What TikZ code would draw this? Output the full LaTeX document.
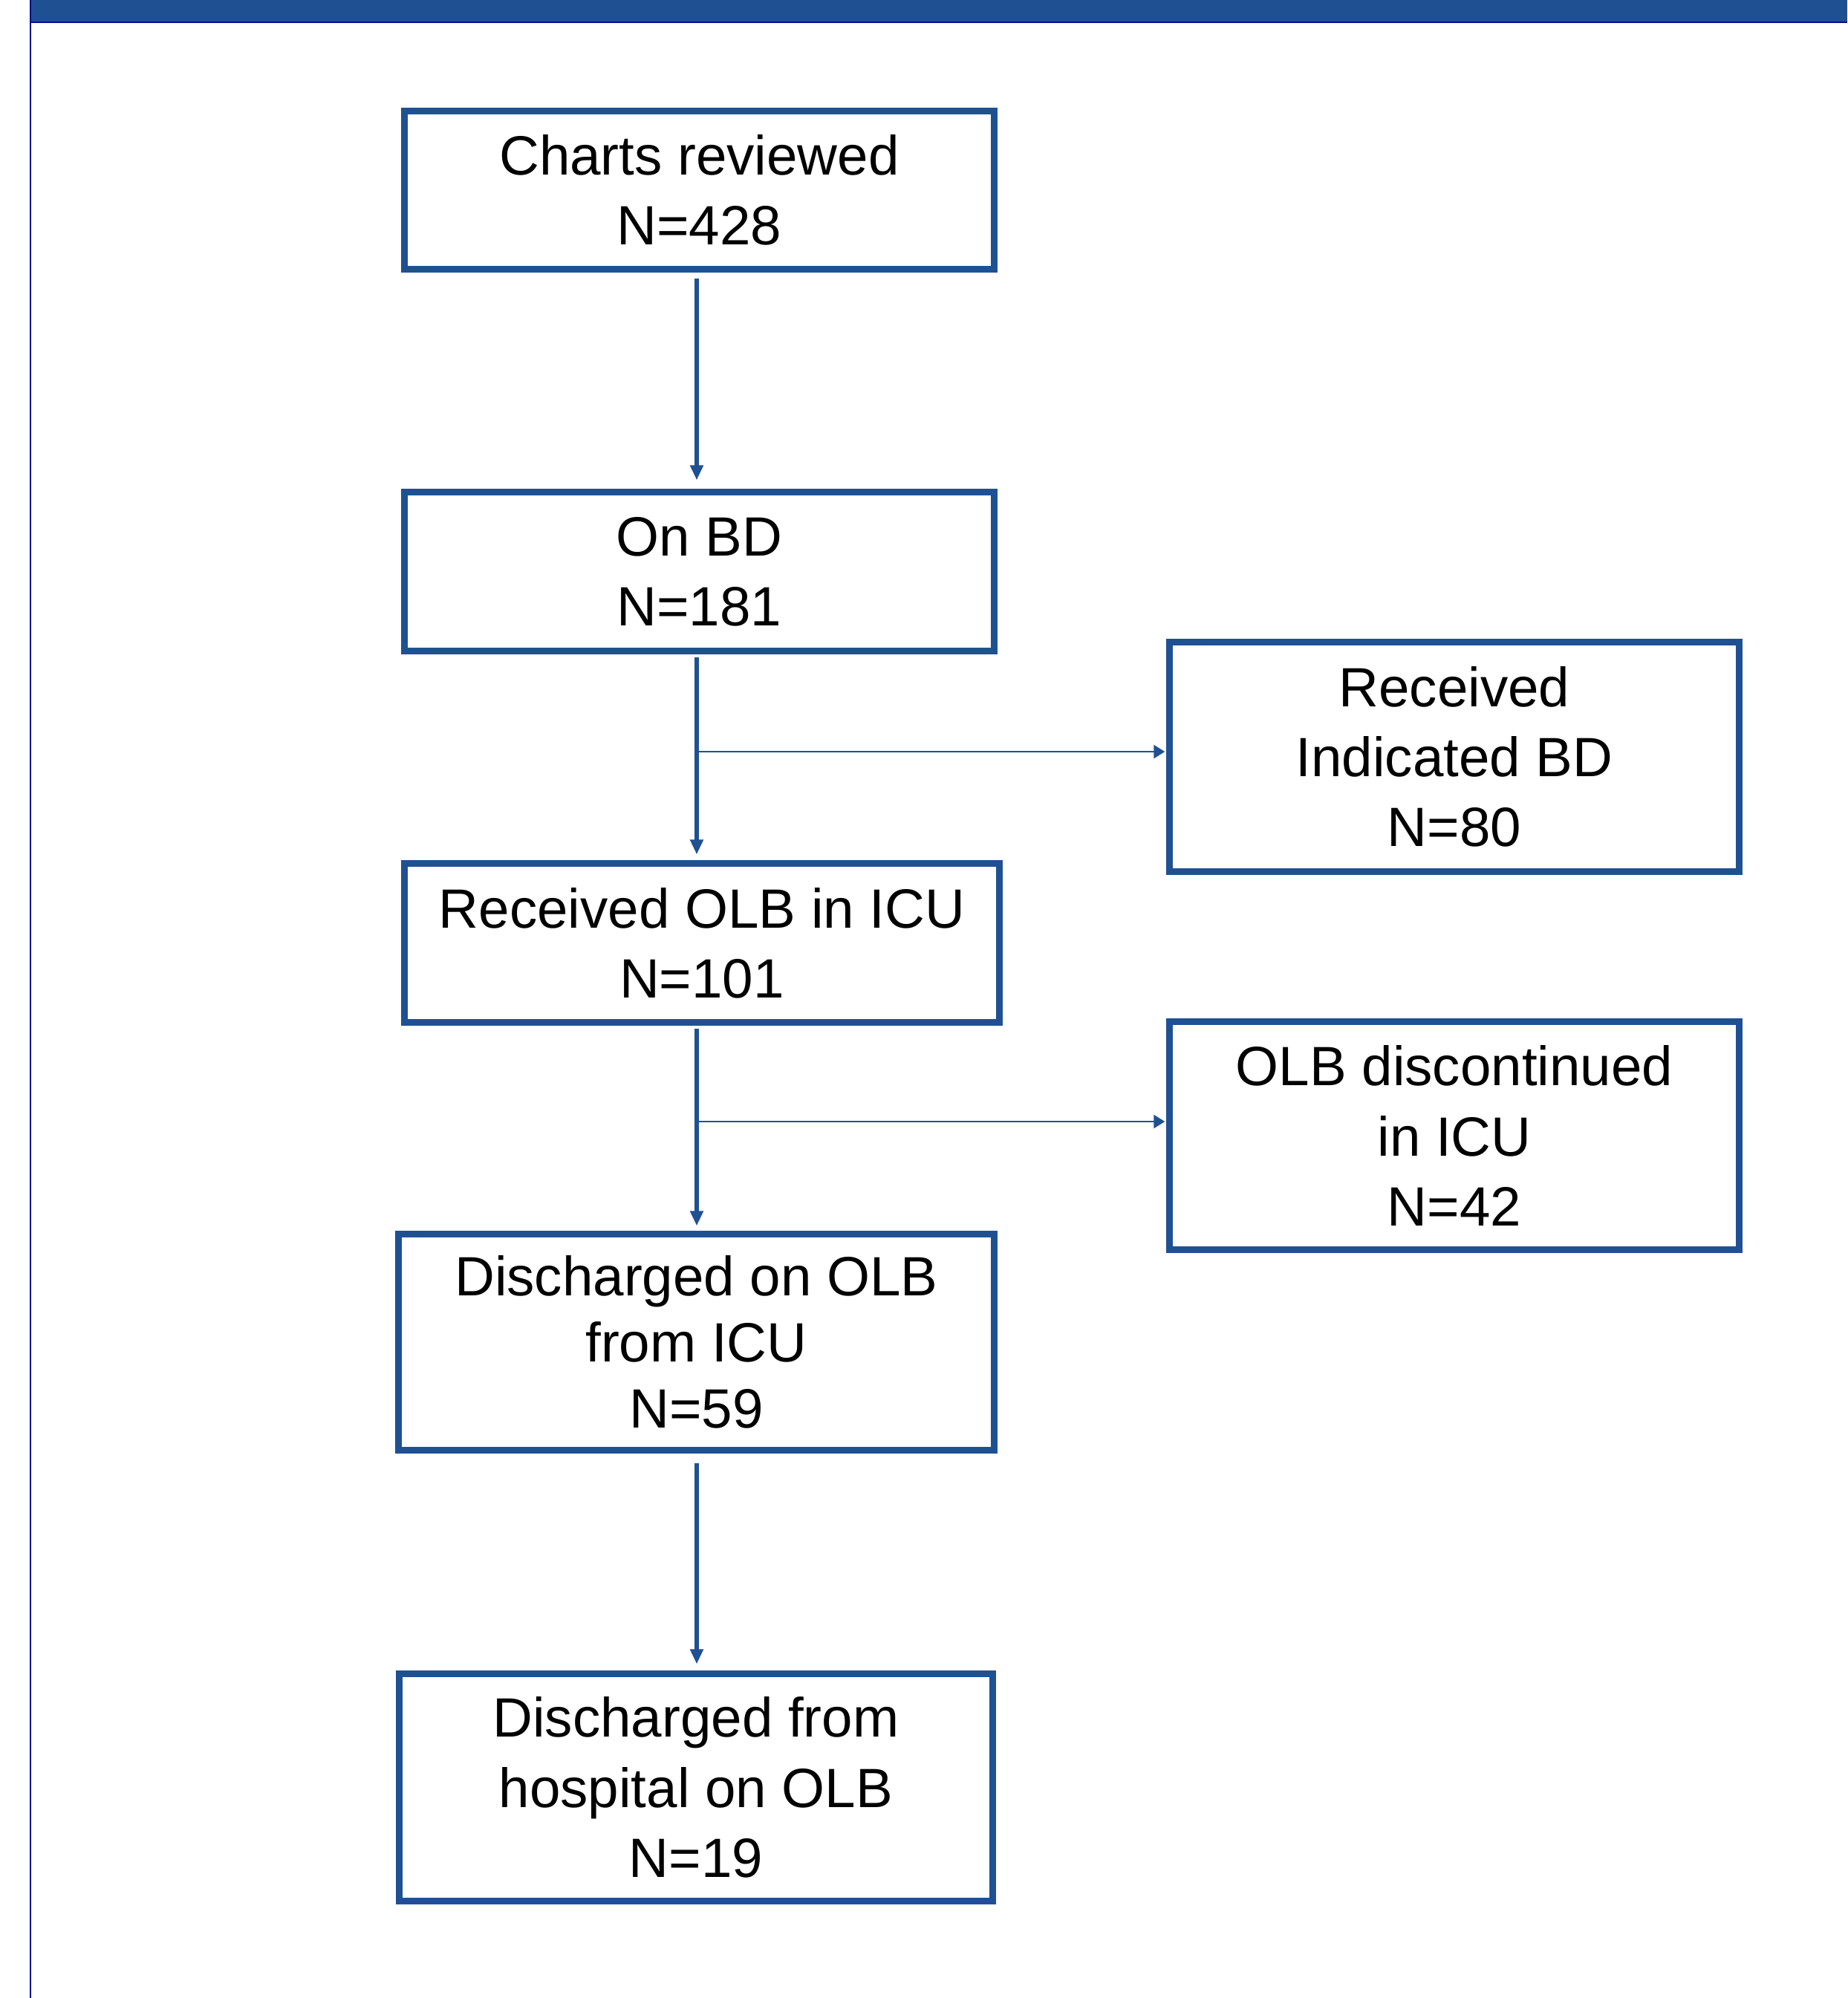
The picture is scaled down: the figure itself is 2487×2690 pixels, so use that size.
\documentclass[tikz,border=0pt]{standalone}
\usepackage{fontspec}
\setmainfont{Liberation Sans}
\usetikzlibrary{arrows.meta}
\definecolor{boxblue}{RGB}{31,81,146}
\definecolor{navy}{RGB}{12,12,140}
\begin{document}
\begin{tikzpicture}[x=0.01cm,y=-0.01cm,
  box/.style={draw=boxblue, line width=2.56pt, rectangle, inner sep=0pt,
    align=center, font=\fontsize{21.2}{26.8}\selectfont, text=black},
  varr/.style={draw=boxblue, line width=1.5pt, -{Triangle[length=0.2cm,width=0.17cm]}},
  harr/.style={draw=boxblue, line width=0.75pt, -{Triangle[length=0.15cm,width=0.18cm]}}]
\useasboundingbox (0,0) rectangle (2487,2690);
% header and frame
\fill[boxblue] (41,0) rectangle (2487,29);
\draw[navy, line width=0.7pt] (41,30) -- (2487,30);
\draw[navy, line width=0.7pt] (41,0) -- (41,2690);
% boxes
\node[box, minimum width=7.93cm, minimum height=2.12cm] (b1) at (941.5,256) {Charts reviewed\\N=428};
\node[box, minimum width=7.93cm, minimum height=2.13cm] (b2) at (941.5,769.5) {On BD\\N=181};
\node[box, minimum width=7.66cm, minimum height=3.08cm] (b3) at (1958,1019) {Received\\Indicated BD\\N=80};
\node[box, minimum width=8.00cm, minimum height=2.13cm] (b4) at (945,1269.5) {Received OLB in ICU\\N=101};
\node[box, minimum width=7.66cm, minimum height=3.06cm] (b5) at (1958,1529) {OLB discontinued\\in ICU\\N=42};
\node[box, minimum width=8.01cm, minimum height=2.90cm, font=\fontsize{21.2}{25.4}\selectfont] (b6) at (937.5,1807) {Discharged on OLB\\from ICU\\N=59};
\node[box, minimum width=7.98cm, minimum height=3.05cm] (b7) at (937,2406.5) {Discharged from\\hospital on OLB\\N=19};
% connectors
\coordinate (ax) at (938,0);
\coordinate (j1) at (938,1012);
\coordinate (j2) at (938,1510);
\draw[varr, shorten <=0.08cm, shorten >=0.12cm] (b1.south -| ax) -- (b2.north -| ax);
\draw[varr, shorten <=0.04cm, shorten >=0.08cm] (b2.south -| ax) -- (b4.north -| ax);
\draw[varr, shorten <=0.04cm, shorten >=0.07cm] (b4.south -| ax) -- (b6.north -| ax);
\draw[varr, shorten <=0.13cm, shorten >=0.09cm] (b6.south -| ax) -- (b7.north -| ax);
\draw[harr, shorten >=0.02cm] (j1) -- (j1 -| b3.west);
\draw[harr, shorten >=0.02cm] (j2) -- (j2 -| b5.west);
\end{tikzpicture}
\end{document}
